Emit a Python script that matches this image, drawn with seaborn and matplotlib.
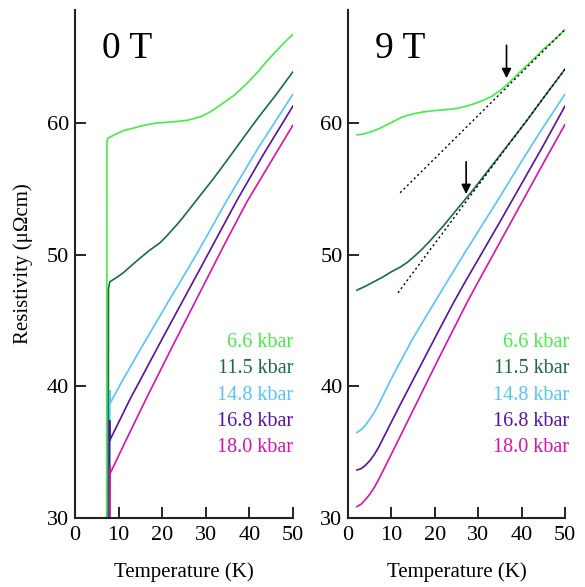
import numpy as np
import pandas as pd
import seaborn as sns
import matplotlib.pyplot as plt

pressures = ["6.6 kbar", "11.5 kbar", "14.8 kbar", "16.8 kbar", "18.0 kbar"]
colors = ["#44ee44", "#1a6e3c", "#55c4ff", "#5511aa", "#dd11aa"]

# 0 T curves (temperature K, resistivity uOhm cm); first points are the drop at Tc
t0_66 = [7.25, 7.35, 7.6, 8.5, 10, 11.5, 13.3, 15, 17, 19, 21, 23, 25.7, 27.5, 29, 30.5, 32,
         33.5, 35, 36.5, 38, 40, 42, 44, 46, 48, 50]
r0_66 = [20, 58.6, 58.85, 59.0, 59.25, 59.45, 59.6, 59.75, 59.9, 60.0, 60.05, 60.1, 60.2, 60.35,
         60.5, 60.75, 61.05, 61.4, 61.75, 62.1, 62.55, 63.2, 63.9, 64.7, 65.4, 66.1, 66.75]
t0_115 = [7.6, 7.7, 8.0, 9.5, 11, 13.4, 15, 17, 19.5, 21, 22.5, 24.1, 26, 27.9, 29.8, 31.7,
          33.5, 35.5, 37.8, 40, 42, 44, 46, 48, 50]
r0_115 = [20, 47.4, 47.94, 48.25, 48.6, 49.3, 49.75, 50.3, 50.9, 51.4, 51.95, 52.55, 53.35,
          54.15, 54.95, 55.75, 56.55, 57.45, 58.5, 59.5, 60.4, 61.25, 62.1, 63.0, 63.9]
t0_148 = [7.95, 8.0, 8.05, 11, 15, 21, 28, 34.8, 42, 50]
r0_148 = [20, 39.7, 38.7, 40.5, 42.8, 46.2, 50.1, 54.1, 58.1, 62.2]
t0_168 = [7.9, 7.95, 8.0, 12.6, 20, 28, 37.1, 43, 50]
r0_168 = [20, 37.4, 35.9, 39.0, 43.6, 48.5, 54.1, 57.5, 61.3]
t0_180 = [8.0, 8.05, 8.1, 12, 16.4, 22, 28, 34, 39.4, 45, 50]
r0_180 = [20, 33.9, 33.4, 36.1, 39.1, 42.8, 46.7, 50.6, 54.0, 57.1, 59.85]

# 9 T curves
t9_66 = [2, 3.5, 5, 6.7, 8, 9.5, 11, 12.5, 14, 15.5, 17, 18.9, 21, 23, 25, 27, 29, 31, 33,
         35, 36.6, 38, 40, 42.6, 45, 47.5, 50]
r9_66 = [59.1, 59.15, 59.3, 59.5, 59.7, 59.95, 60.2, 60.45, 60.6, 60.72, 60.82, 60.9, 60.97,
         61.02, 61.1, 61.25, 61.45, 61.7, 62.0, 62.45, 62.9, 63.35, 64.0, 64.8, 65.6, 66.3, 67.1]
t9_115 = [2, 4, 6, 8, 10, 12, 13.6, 15.2, 17, 18.9, 20.5, 22, 23.5, 25.1, 27, 29, 31.1, 33,
          35, 37, 38.9, 41, 43, 45, 47.5, 50]
r9_115 = [47.3, 47.6, 47.95, 48.3, 48.7, 49.05, 49.4, 49.85, 50.4, 51.05, 51.65, 52.2, 52.8,
          53.45, 54.2, 55.0, 55.9, 56.7, 57.55, 58.4, 59.2, 60.1, 61.0, 61.9, 63.0, 64.1]
t9_148 = [2, 3, 4, 5, 6, 7, 8.5, 10, 11.6, 14.7, 18.5, 20.7, 23.1, 27, 31, 35, 40, 45, 50]
r9_148 = [36.48, 36.7, 37.05, 37.5, 38.0, 38.6, 39.6, 40.6, 41.6, 43.5, 45.6, 46.8, 48.1,
          50.2, 52.3, 54.4, 57.1, 59.7, 62.2]
t9_168 = [2, 3, 4, 5, 6, 7, 8, 9.3, 12, 15, 18, 21, 24.2, 27, 30, 35, 40, 45, 50]
r9_168 = [33.64, 33.75, 34.0, 34.35, 34.8, 35.35, 36.0, 36.85, 38.6, 40.5, 42.4, 44.3, 46.3,
          47.95, 49.65, 52.5, 55.4, 58.3, 61.3]
t9_180 = [2, 3, 4, 5, 6, 7, 8, 9.3, 12, 15, 18, 21, 24, 27.3, 30, 35, 40, 45, 50]
r9_180 = [30.86, 31.05, 31.4, 31.8, 32.3, 32.9, 33.55, 34.4, 36.2, 38.2, 40.2, 42.2, 44.15,
          46.3, 47.95, 50.95, 53.95, 56.95, 59.9]

# guide lines (linear fits) and arrow positions in 9 T
fit_t = [[12, 50], [11.5, 50]]
fit_r = [[54.7, 67.1], [47.1, 64.1]]
arrow_t = [36.5, 27.2]
arrow_tip = [63.4, 54.6]
arrow_tail = [65.9, 57.05]

curves0 = [(t0_66, r0_66), (t0_115, r0_115), (t0_148, r0_148), (t0_168, r0_168), (t0_180, r0_180)]
curves9 = [(t9_66, r9_66), (t9_115, r9_115), (t9_148, r9_148), (t9_168, r9_168), (t9_180, r9_180)]

sns.set_theme(style="ticks")
plt.rcParams['font.family'] = ['Liberation Serif', 'DejaVu Serif']
plt.rcParams['text.color'] = 'black'
plt.rcParams['axes.labelcolor'] = 'black'

fig = plt.figure(figsize=(5.85, 5.87), dpi=100)
ax0 = fig.add_axes([0.128, 0.1175, 0.373, 0.866])
ax1 = fig.add_axes([0.595, 0.1175, 0.371, 0.866])

for ax, curves, title in [(ax0, curves0, "0 T"), (ax1, curves9, "9 T")]:
    for (t, r), c in zip(curves, colors):
        df = pd.DataFrame({"T": t, "rho": r})
        sns.lineplot(data=df, x="T", y="rho", ax=ax, color=c, lw=1.2,
                     sort=False, estimator=None)
    ax.set_xlim(0, 50)
    ax.set_ylim(30, 68.6)
    ax.set_xticks([0, 10, 20, 30, 40, 50])
    ax.set_yticks([30, 40, 50, 60])
    ax.tick_params(direction="in", length=8, width=1.2, labelsize=16, colors="black")
    ax.tick_params(axis="x", pad=6)
    ax.tick_params(axis="y", pad=4)
    sns.despine(ax=ax)
    for s in ["left", "bottom"]:
        ax.spines[s].set_linewidth(1.5)
        ax.spines[s].set_color("#222222")
    ax.set_xlabel("Temperature (K)", fontsize=15, labelpad=12)
    ax.set_ylabel("")
    ax.text(0.125, 0.957, title, transform=ax.transAxes, fontsize=27, va="top", ha="left")
    for i, (p, c) in enumerate(zip(pressures, colors)):
        ax.text(1.0 if ax is ax0 else 1.02, 0.345 - i * 0.0515, p, transform=ax.transAxes,
                color=c, fontsize=14.5, ha="right", va="center")

for ft, fr in zip(fit_t, fit_r):
    sns.lineplot(x=ft, y=fr, ax=ax1, color="black", lw=1.0, linestyle=(0, (1.5, 2)))

for at, tip, tail in zip(arrow_t, arrow_tip, arrow_tail):
    ax1.annotate("", xy=(at, tip), xytext=(at, tail),
                 arrowprops=dict(arrowstyle="-|>", color="black", lw=1.2,
                                 mutation_scale=14, shrinkA=0, shrinkB=0))

ax0.set_ylabel("Resistivity (μΩcm)", fontsize=15, labelpad=10)

fig.savefig("out.png", dpi=100)
